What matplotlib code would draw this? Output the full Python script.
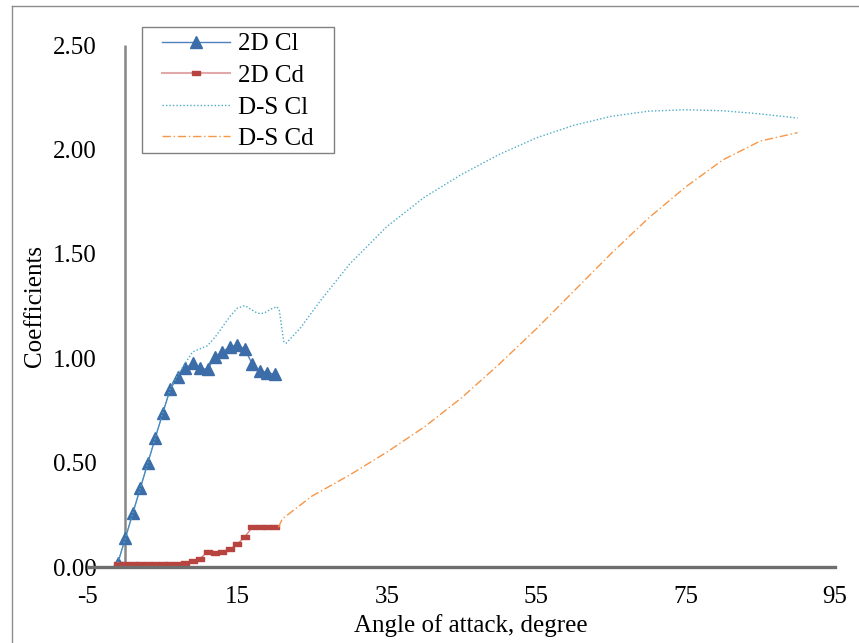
import matplotlib
matplotlib.use('Agg')
import matplotlib.pyplot as plt
from matplotlib.lines import Line2D
from matplotlib.patches import Rectangle

plt.rcParams['font.family'] = ['Liberation Serif', 'DejaVu Serif']

# 2D airfoil data
x_2d = [-1, 0, 1, 2, 3, 4, 5, 6, 7, 8, 9, 10, 11, 12, 13, 14, 15, 16, 17, 18, 19, 20]
cl_2d = [0.02, 0.137, 0.257, 0.377, 0.497, 0.618, 0.736, 0.851, 0.911, 0.951, 0.976,
         0.951, 0.947, 1.007, 1.03, 1.055, 1.063, 1.043, 0.971, 0.939, 0.931, 0.923]
cd_2d = [0.013, 0.013, 0.013, 0.013, 0.013, 0.013, 0.013, 0.013, 0.016, 0.021, 0.027,
         0.040, 0.073, 0.066, 0.072, 0.085, 0.110, 0.145, 0.19, 0.19, 0.19, 0.19]

# D-S extrapolated data
x_ds_cl = [-1, 0, 1, 2, 3, 4, 5, 6, 7, 8, 9, 10, 11, 12, 13, 14, 15, 16, 17, 17.7, 18.5,
           19.5, 20.3, 20.6, 21.2, 21.5, 23.4, 26, 30, 35, 40, 45, 50, 55, 60, 65, 70,
           75, 80, 85, 90]
ds_cl = [0.02, 0.137, 0.257, 0.377, 0.497, 0.618, 0.736, 0.851, 0.92, 0.975, 1.03, 1.045,
         1.06, 1.10, 1.15, 1.20, 1.24, 1.252, 1.23, 1.215, 1.215, 1.235, 1.247, 1.23, 1.08,
         1.071, 1.143, 1.27, 1.45, 1.63, 1.77, 1.88, 1.975, 2.055, 2.115, 2.158, 2.183,
         2.19, 2.185, 2.17, 2.15]
x_ds_cd = [20.5, 21, 25, 30, 35, 40, 45, 50, 55, 60, 65, 70, 75, 80, 85, 90]
ds_cd = [0.19, 0.23, 0.34, 0.44, 0.55, 0.67, 0.81, 0.97, 1.14, 1.32, 1.50, 1.67, 1.82,
         1.95, 2.04, 2.08]

xticks = [-5, 15, 35, 55, 75, 95]
yticks = [0.0, 0.5, 1.0, 1.5, 2.0, 2.5]

W, H = 859, 643
AX_L, AX_R, AX_T, AX_B = 88, 835, 45, 567
fig = plt.figure(figsize=(W / 100, H / 100), dpi=100)
ax = fig.add_axes([AX_L / W, 1 - AX_B / H, (AX_R - AX_L) / W, (AX_B - AX_T) / H])

dash_marker = [(-1, -0.55), (1, -0.55), (1, 0.55), (-1, 0.55), (-1, -0.55)]

ax.plot(x_ds_cl, ds_cl, color='#4BACC6', lw=1, ls=(0, (1, 1.5)), label='D-S Cl', zorder=4)
ax.plot(x_ds_cd, ds_cd, color='#F79646', lw=1, ls=(0, (6, 2, 1, 2)), label='D-S Cd', zorder=4)
ax.plot(x_2d, cl_2d, color='#4F81BD', lw=1, marker='^', ms=8.5, mfc='#3C6DA8',
        mec='#3C6DA8', label='2D Cl', zorder=3)
ax.plot(x_2d, cd_2d, color='#D9817E', lw=1, marker=dash_marker, ms=6, mfc='#B84440',
        mec='#B84440', label='2D Cd', zorder=3)

ax.set_xlim(-5, 95)
ax.set_ylim(0, 2.5)
for s in ax.spines.values():
    s.set_visible(False)
# vertical axis crosses at x = 0
ax.plot([0, 0], [yticks[0], yticks[-1]], color='#868686', lw=1.8, zorder=2,
        clip_on=False, solid_capstyle='butt')

ax.set_xticks(xticks)
ax.set_xticklabels([str(v) for v in xticks])
ax.set_yticks(yticks)
ax.set_yticklabels(['%.2f' % v for v in yticks])
ax.tick_params(axis='both', length=0, labelsize=18)
ax.tick_params(axis='x', pad=14)
ax.tick_params(axis='y', pad=-6.5)

# horizontal axis line (drawn at figure level)
fig.add_artist(Line2D([AX_L / W, AX_R / W], [1 - AX_B / H, 1 - AX_B / H],
                      transform=fig.transFigure, color='#6E6E6E', lw=2.4, zorder=1))

fig.text(471 / W, 1 - 632 / H, 'Angle of attack, degree', ha='center', va='baseline', fontsize=18)
fig.text(35 / W, 1 - 306 / H, 'Coefficients', ha='center', va='center', rotation=90, fontsize=18)

# legend
handles = [
    Line2D([], [], color='#4F81BD', lw=1, marker='^', ms=9, mfc='#3C6DA8', mec='#3C6DA8'),
    Line2D([], [], color='#E0A8A8', lw=1.5, marker=dash_marker, ms=6, mfc='#B84440', mec='#B84440'),
    Line2D([], [], color='#4BACC6', lw=1, ls=(0, (1, 1.5))),
    Line2D([], [], color='#F79646', lw=1, ls=(0, (6, 2, 1, 2))),
]
labels = ['2D Cl', '2D Cd', 'D-S Cl', 'D-S Cd']
fig.legend(handles, labels, loc='upper left', bbox_to_anchor=(162 / W, 1 - 33 / H),
           frameon=False, borderpad=0, borderaxespad=0, fontsize=18, handlelength=2.72,
           handletextpad=0.3, labelspacing=0.36, numpoints=1)
fig.add_artist(Rectangle((142 / W, 1 - 153 / H), (334 - 142) / W, (153 - 27) / H,
                         transform=fig.transFigure, fill=False, ec='#808080', lw=1))

# outer chart border
fig.add_artist(Line2D([12 / W, 12 / W], [0, 1 - 6 / H], transform=fig.transFigure,
                      color='#8C8C8C', lw=1))
fig.add_artist(Line2D([12 / W, 1], [1 - 6 / H, 1 - 6 / H], transform=fig.transFigure,
                      color='#8C8C8C', lw=1))

fig.savefig('out.png', dpi=100)
